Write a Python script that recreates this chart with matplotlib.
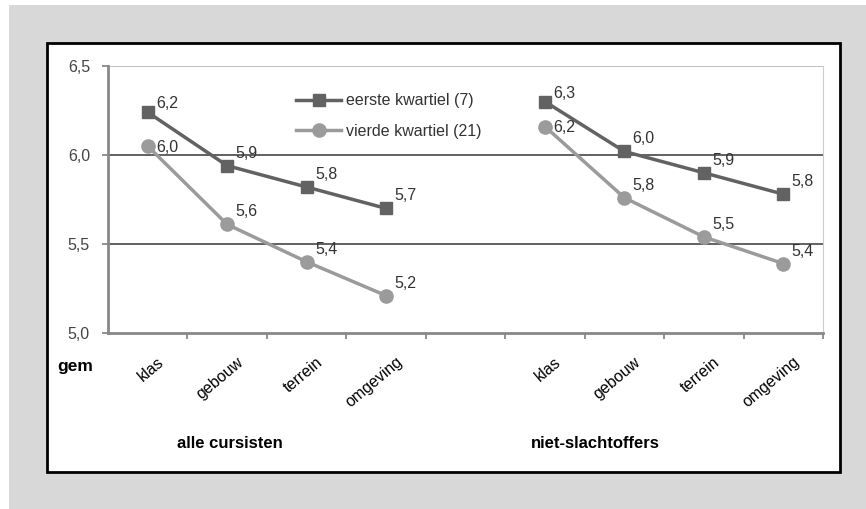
import numpy as np
import matplotlib.pyplot as plt
from matplotlib.patches import Rectangle

plt.rcParams['font.family'] = ['Liberation Sans', 'DejaVu Sans']

categories = ['klas', 'gebouw', 'terrein', 'omgeving']
groups = ['alle cursisten', 'niet-slachtoffers']
series_names = ['eerste kwartiel (7)', 'vierde kwartiel (21)']

# values per group: [alle cursisten, niet-slachtoffers]
eerste = [[6.24, 5.94, 5.82, 5.70], [6.30, 6.02, 5.90, 5.78]]
vierde = [[6.05, 5.61, 5.40, 5.21], [6.16, 5.76, 5.54, 5.39]]

yticks = [5.0, 5.5, 6.0, 6.5]

W, H = 866, 509
fig = plt.figure(figsize=(W / 100, H / 100), dpi=100)
fig.patch.set_facecolor('white')

# grey frame with white panel
fig.patches.append(Rectangle((9 / W, 0), (W - 9) / W, (H - 5) / H,
                             transform=fig.transFigure, facecolor='#d8d8d8',
                             edgecolor='none', zorder=0))
fig.patches.append(Rectangle((47 / W, (H - 472) / H), (840 - 47) / W, (472 - 43) / H,
                             transform=fig.transFigure, facecolor='white',
                             edgecolor='black', linewidth=2, zorder=1))

ax = fig.add_axes([108 / W, (H - 333) / H, (823 - 108) / W, (333 - 66) / H])
ax.set_facecolor('white')
ax.set_zorder(2)

styles = [dict(color='#626262', marker='s', ms=9),
          dict(color='#9b9b9b', marker='o', ms=9.5)]

n = len(categories)
for g in range(len(groups)):
    xs = np.arange(n) + g * (n + 1)
    for s, vals in enumerate([eerste, vierde]):
        st = styles[s]
        ax.plot(xs, vals[g], color=st['color'], marker=st['marker'], ms=st['ms'],
                lw=2.5, zorder=4, label=series_names[s] if g == 0 else None)
        for i, (x, v) in enumerate(zip(xs, vals[g])):
            if i == 0 and s == 1:
                off = (6, -1)
            elif i == 0:
                off = (6, 6)
            else:
                off = (6, 9)
            ax.annotate(f'{v:.1f}'.replace('.', ','), (x, v), xytext=off,
                        textcoords='offset points', ha='left', va='center',
                        fontsize=11.5, color='#333333', zorder=5)

ax.set_xlim(-0.5, 2 * n + 0.5)
ax.set_ylim(5.0, 6.5)

for y in [5.5, 6.0]:
    ax.axhline(y, color='#555555', lw=1.3, zorder=1)
ax.axhline(6.5, color='#bbbbbb', lw=1.3, zorder=1)

ax.set_yticks(yticks)
ax.set_yticklabels([f'{t:.1f}'.replace('.', ',') for t in yticks],
                   fontsize=11.5, color='#444444')
ax.set_xticks(np.arange(0.5, 2 * n + 1, 1.0))
ax.set_xticklabels([])
ax.tick_params(axis='both', direction='out', length=4, width=1.3, color='#888888')
ax.tick_params(axis='y', pad=9)

for side in ['left', 'bottom']:
    ax.spines[side].set_color('#888888')
    ax.spines[side].set_linewidth(2)
ax.spines['right'].set_color('#cccccc')
ax.spines['top'].set_visible(False)

# rotated category labels
for g in range(len(groups)):
    for i, c in enumerate(categories):
        x = i + g * (n + 1) + 0.12
        ax.text(x, -0.08, c, transform=ax.get_xaxis_transform(), rotation=40,
                rotation_mode='anchor', ha='right', va='top', fontsize=11.5,
                color='black')

fig.text(57 / W, 1 - 367 / H, 'gem', fontsize=12.5, fontweight='bold',
         ha='left', va='center', zorder=3)
fig.text(230 / W, 1 - 443 / H, groups[0], fontsize=12, fontweight='bold',
         ha='center', va='center', zorder=3)
fig.text(595 / W, 1 - 443 / H, groups[1], fontsize=12, fontweight='bold',
         ha='center', va='center', zorder=3)

leg = ax.legend(loc='upper left', bbox_to_anchor=((290 - 108) / (823 - 108), 1 - (87 - 66) / (333 - 66)),
                frameon=False, fontsize=11.5, handlelength=2.8, handletextpad=0.3,
                labelspacing=0.95, borderaxespad=0)
for t in leg.get_texts():
    t.set_color('#333333')

fig.savefig('out.png', dpi=100)
